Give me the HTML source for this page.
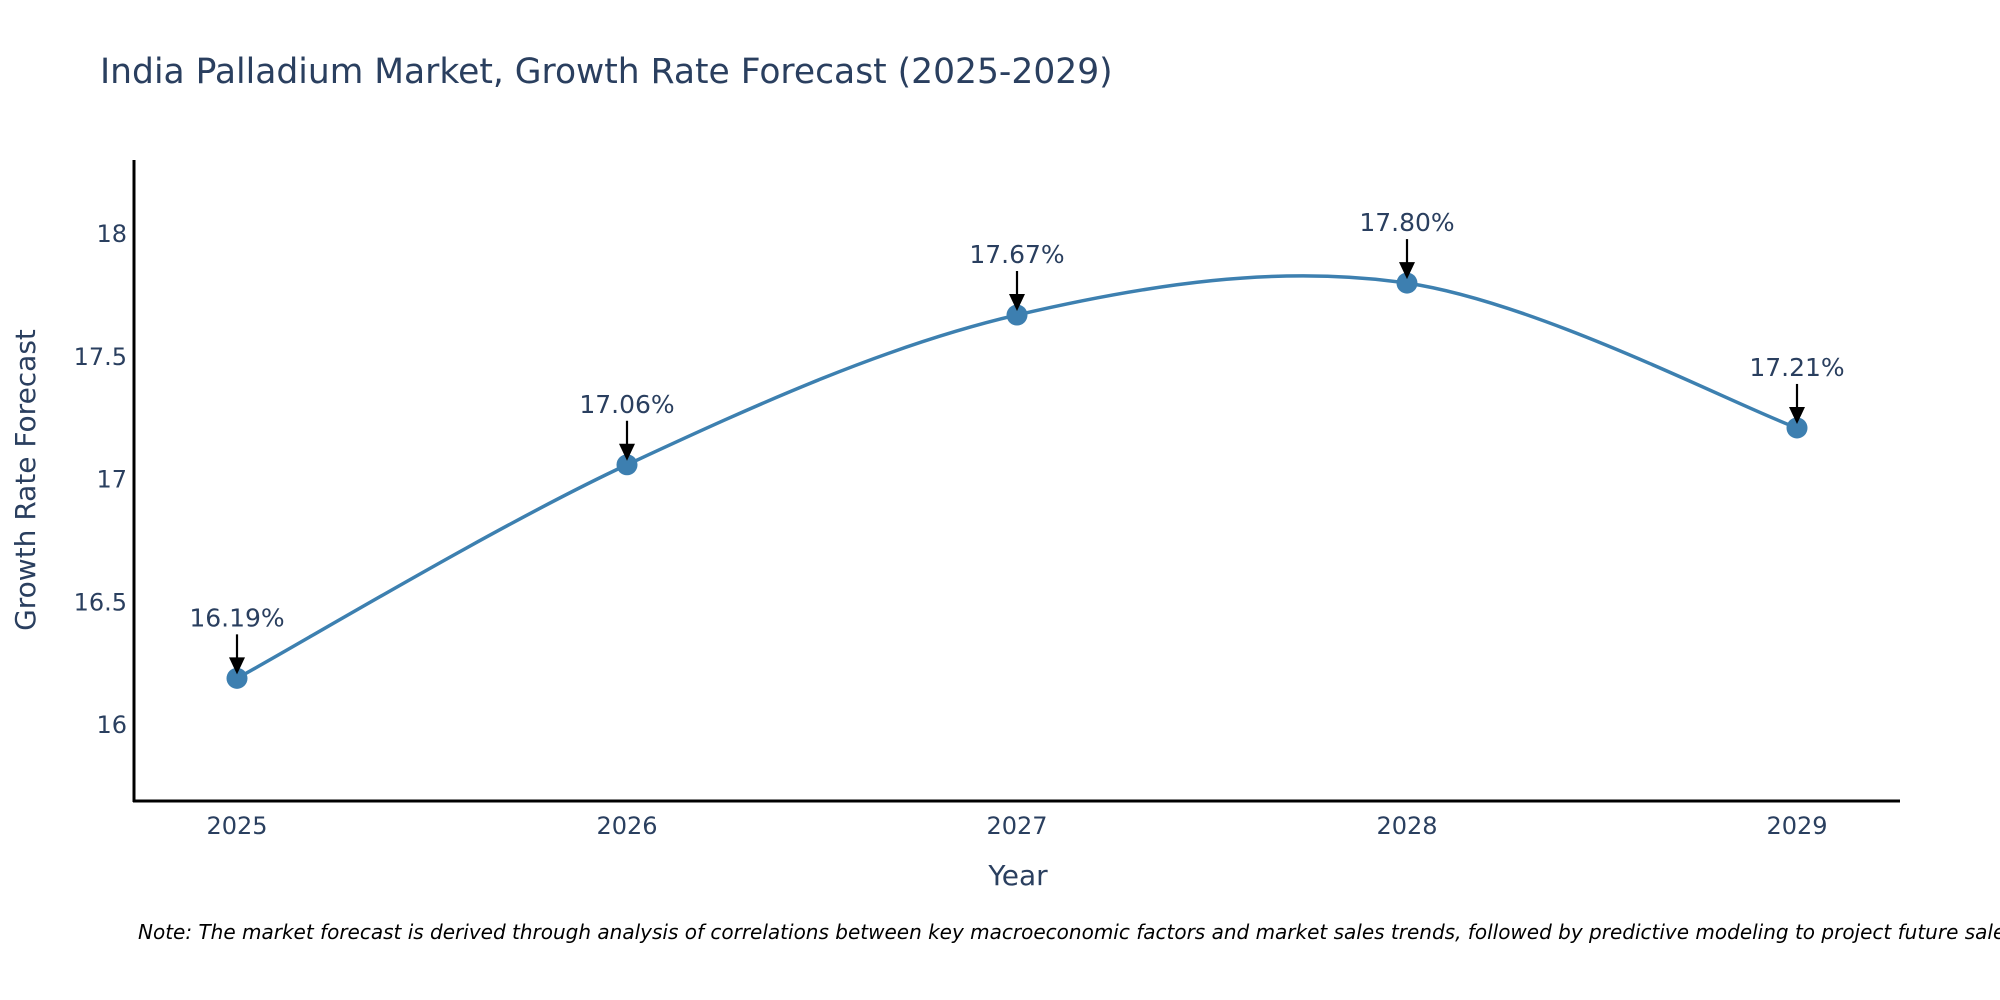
<!DOCTYPE html>
<html><head><meta charset="utf-8"><style>
body{margin:0;background:#fff;overflow:hidden;}
svg{display:block;font-family:"DejaVu Sans","Liberation Sans",sans-serif;}
</style></head><body>
<svg id="chart" width="2000" height="1000" xmlns="http://www.w3.org/2000/svg">
<text x="100" y="83" font-size="34.5" fill="#2a3f5f">India Palladium Market, Growth Rate Forecast (2025-2029)</text>
<g id="yticks"></g><g id="xticks"></g>
<line x1="134" y1="160" x2="134" y2="802" stroke="#000" stroke-width="3"/>
<line x1="133" y1="801" x2="1900" y2="801" stroke="#000" stroke-width="3"/>
<text x="1018" y="885" font-size="28" fill="#2a3f5f" text-anchor="middle">Year</text>
<text transform="translate(35,480) rotate(-90)" font-size="28" fill="#2a3f5f" text-anchor="middle">Growth Rate Forecast</text>
<g id="series"></g>
<text x="138" y="939" font-size="20" font-style="italic" fill="#000">Note: The market forecast is derived through analysis of correlations between key macroeconomic factors and market sales trends, followed by predictive modeling to project future sales.</text>
</svg>
<script>
const years = [2025, 2026, 2027, 2028, 2029];
const values = [16.19, 17.06, 17.67, 17.80, 17.21];
const labels = ["16.19%", "17.06%", "17.67%", "17.80%", "17.21%"];
const yTicks = [16, 16.5, 17, 17.5, 18];
const yTickLabels = ["16", "16.5", "17", "17.5", "18"];

const NS = "http://www.w3.org/2000/svg";
const xS = v => 237 + (v - 2025) * 390;
const yS = v => 725 - (v - 16) * 245.5;
function mk(tag, attrs, parent){const e=document.createElementNS(NS,tag);for(const k in attrs)e.setAttribute(k,attrs[k]);parent.appendChild(e);return e;}
const yg=document.getElementById('yticks'), xg=document.getElementById('xticks'), sg=document.getElementById('series');
yTicks.forEach((t,i)=>{
  const e=mk('text',{x:127,y:yS(t)+8,'font-size':24,fill:'#2a3f5f','text-anchor':'end'},yg);
  
  
  e.textContent=yTickLabels[i];
});
years.forEach(y=>{
  const e=mk('text',{x:xS(y),y:834,'font-size':24,fill:'#2a3f5f','text-anchor':'middle'},xg);
  
  
  e.textContent=String(y);
});
const P=years.map((y,i)=>[xS(y),yS(values[i])]);
let d=`M${P[0][0]},${P[0][1]}`;
for(let i=0;i<P.length-1;i++){
  const p0=P[Math.max(0,i-1)],p1=P[i],p2=P[i+1],p3=P[Math.min(P.length-1,i+2)];
  const t=1/6;
  const c1=[p1[0]+(p2[0]-p0[0])*t,p1[1]+(p2[1]-p0[1])*t];
  const c2=[p2[0]-(p3[0]-p1[0])*t,p2[1]-(p3[1]-p1[1])*t];
  d+=` C${c1[0]},${c1[1]} ${c2[0]},${c2[1]} ${p2[0]},${p2[1]}`;
}
const line=mk('path',{d:d,fill:'none',stroke:'#3d80b0','stroke-width':3.5},sg);


P.forEach((p,i)=>{
  const c=mk('circle',{cx:p[0],cy:p[1],r:10.5,fill:'#3d7fb0'},sg);
  
  
  const a=mk('line',{x1:p[0],y1:p[1]-44,x2:p[0],y2:p[1]-18,stroke:'#000','stroke-width':2.2},sg);
  
  
  const h=mk('polygon',{points:`${p[0]-8},${p[1]-21} ${p[0]+8},${p[1]-21} ${p[0]},${p[1]-4}`,fill:'#000'},sg);
  
  
  const t=mk('text',{x:p[0],y:p[1]-52,'font-size':25,fill:'#2a3f5f','text-anchor':'middle'},sg);
  
  
  t.textContent=labels[i];
});
</script>
</body></html>
